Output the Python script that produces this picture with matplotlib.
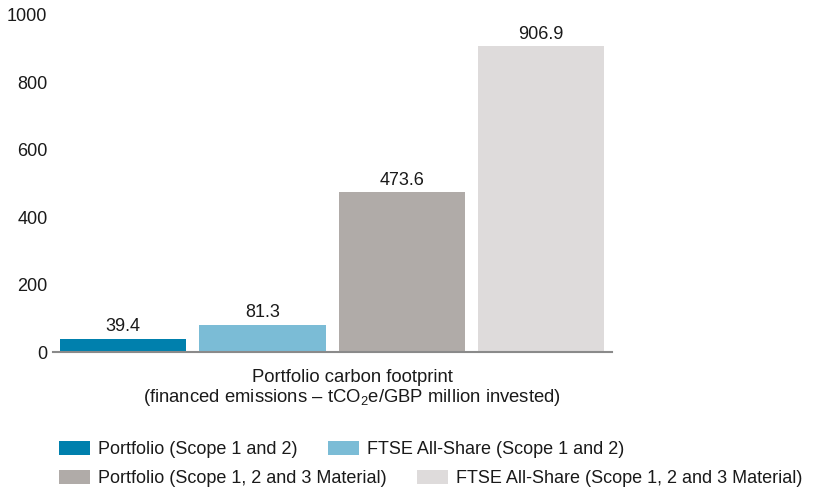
import numpy as np
import matplotlib.pyplot as plt
from matplotlib.patches import Patch

plt.rcParams['font.family'] = ['Liberation Sans', 'DejaVu Sans']
plt.rcParams['mathtext.fontset'] = 'custom'
plt.rcParams['mathtext.rm'] = 'Liberation Sans'
plt.rcParams['mathtext.it'] = 'Liberation Sans:italic'

labels = ['Portfolio (Scope 1 and 2)', 'FTSE All-Share (Scope 1 and 2)',
          'Portfolio (Scope 1, 2 and 3 Material)', 'FTSE All-Share (Scope 1, 2 and 3 Material)']
values = [39.4, 81.3, 473.6, 906.9]
colors = ['#0080ad', '#7bbcd6', '#b0aba8', '#dedbdb']
yticks = [0, 200, 400, 600, 800, 1000]

FS = 13
txtc = '#1a1a1a'

fig = plt.figure(figsize=(8.19, 4.93), dpi=100)
ax = fig.add_axes([0.0647, 0.286, 0.6825, 0.6836])

x = np.arange(len(values))
bars = ax.bar(x, values, width=0.906, color=colors)
for b, v in zip(bars, values):
    ax.annotate(f'{v:.1f}', (b.get_x() + b.get_width() / 2, v), xytext=(0, 2.5),
                textcoords='offset points', ha='center', va='bottom', fontsize=FS, color=txtc)

ax.set_xlim(-0.505, 3.51)
ax.set_ylim(0, 1000)
ax.set_yticks(yticks)
ax.set_xticks([])
ax.tick_params(axis='y', length=0, pad=4, labelsize=FS, labelcolor=txtc)
for s in ['top', 'right', 'left']:
    ax.spines[s].set_visible(False)
ax.spines['bottom'].set_color('#8a8a8a')
ax.spines['bottom'].set_linewidth(1.5)

ax.set_xlabel('Portfolio carbon footprint\n(financed emissions – tCO$_\\mathregular{2}$e/GBP million invested)',
              fontsize=FS + 0.3, color=txtc, labelpad=12, linespacing=1.1, x=0.535, ha='center')

handles = [Patch(facecolor=c, edgecolor='none') for c in colors]
leg_kw = dict(ncol=2, frameon=False, fontsize=FS, handlelength=1.72, handleheight=0.83,
              handletextpad=0.44, columnspacing=1.67, borderaxespad=0, borderpad=0)
leg1 = fig.legend(handles[:2], labels[:2], loc='center left', bbox_to_anchor=(59 / 819, 1 - 449.5 / 493), **leg_kw)
leg2 = fig.legend(handles[2:], labels[2:], loc='center left', bbox_to_anchor=(59 / 819, 1 - 478.5 / 493), **leg_kw)
for leg in (leg1, leg2):
    for t in leg.get_texts():
        t.set_color(txtc)

fig.savefig('out.png', dpi=100)
